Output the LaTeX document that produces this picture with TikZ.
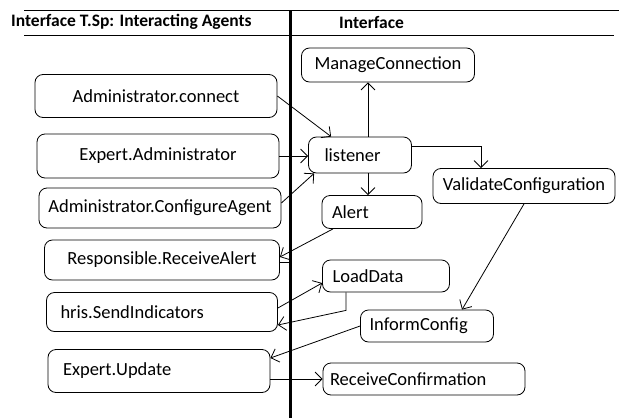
\documentclass[tikz,border=0pt]{standalone}
\usepackage{fontspec}
\setmainfont{Carlito}
\usetikzlibrary{arrows.meta,calc}
\begin{document}
\begin{tikzpicture}[x=1pt,y=-1pt,
  box/.style={draw,line width=0.8pt,rounded corners=8pt,font=\fontsize{18.5}{20}\selectfont,inner ysep=0pt},
  cbox/.style={box,align=center},
  arr/.style={line width=0.8pt,-{Straight Barb[length=7pt,width=14pt]}},
  ttl/.style={font=\bfseries\fontsize{17.5}{19}\selectfont,anchor=west,inner sep=0pt}]
\useasboundingbox (0,0) rectangle (619,418);
% header
\draw[line width=1pt] (24,10) -- (619,10);
\draw[line width=1pt] (24,35) -- (614,35);
\draw[line width=3pt] (290,10) -- (290,418);
\coordinate (lane) at (290,0);
\node[ttl] (t1) at (11,22) {Interface T.Sp: Interacting Agents};
\node[ttl] (t2) at (339,22) {Interface};
% left nodes
\node[cbox,minimum width=242,minimum height=43,text width=232,inner xsep=5pt] (acon) at (156,96) {Administrator.connect};
\node[cbox,minimum width=242,minimum height=44,text width=232,inner xsep=5pt] (eadm) at (158,156) {Expert.Administrator};
\node[cbox,minimum width=242,minimum height=40,text width=234,inner xsep=4pt] (conf) at (160,208) {Administrator.ConfigureAgent};
\node[cbox,minimum width=235,minimum height=40,text width=225,inner xsep=5pt] (recv) at (162,260) {Responsible.ReceiveAlert};
\node[box,align=left,inner xsep=14pt,text width=203,minimum height=39] (hris) at (162,312) {hris.SendIndicators};
\node[box,align=left,inner xsep=15pt,text width=192,minimum height=43] (eupd) at (159,371) {Expert.Update};
% right nodes
\node[cbox,minimum width=173,minimum height=34,text width=165,inner xsep=4pt] (mng) at (388,65) {ManageConnection};
\node[box,align=left,inner xsep=16pt,text width=71,minimum height=36] (lis) at (360,155) {listener};
\node[cbox,minimum width=182,minimum height=35,text width=174,inner xsep=4pt] (val) at (524,186) {ValidateConfiguration};
\node[box,align=left,inner xsep=10pt,text width=80,minimum height=33] (alert) at (372,212) {Alert};
\node[box,align=left,inner xsep=10pt,text width=107,minimum height=32] (load) at (386,276) {LoadData};
\node[box,align=left,inner xsep=9pt,text width=115,minimum height=32] (inf) at (427,326) {InformConfig};
\node[box,align=left,inner xsep=7pt,text width=188,minimum height=32] (rcf) at (424,379) {ReceiveConfirmation};
% connectors
\draw[arr] (acon.east) -- ([xshift=23pt]lis.north west);
\draw[arr] (eadm.east) -- (eadm.east -| lis.west);
\draw[arr] ([yshift=5pt]conf.east) -- ([xshift=6pt]lis.south west);
\draw[arr] ([xshift=8pt]lis.north) -- ([xshift=8pt]lis.north |- mng.south);
\draw[arr] ([xshift=8pt]lis.south) -- ([xshift=8pt]lis.south |- alert.north);
\draw[arr] ([yshift=9pt]lis.east) -| ([xshift=-43pt]val.north);
\draw[arr] ([xshift=-39pt]alert.south) -- ([yshift=3pt]recv.east);
\draw[line width=0.8pt] ([yshift=-2pt]recv.east) -- ([yshift=-2pt]recv.east -| lane);
\draw[arr] ([yshift=4pt]hris.east) -- ([yshift=-7pt]load.west);
\draw[arr] ([xshift=-40pt]load.south) -- ++(0,18) -- ([yshift=-13pt]hris.east);
\draw[arr] (inf.west) -- ([yshift=13pt]eupd.east);
\draw[arr] (val.south) -- ([xshift=35pt]inf.north);
\draw[arr] ([yshift=-8pt]eupd.east) -- ([yshift=-8pt]eupd.east -| rcf.west);
\end{tikzpicture}
\end{document}
